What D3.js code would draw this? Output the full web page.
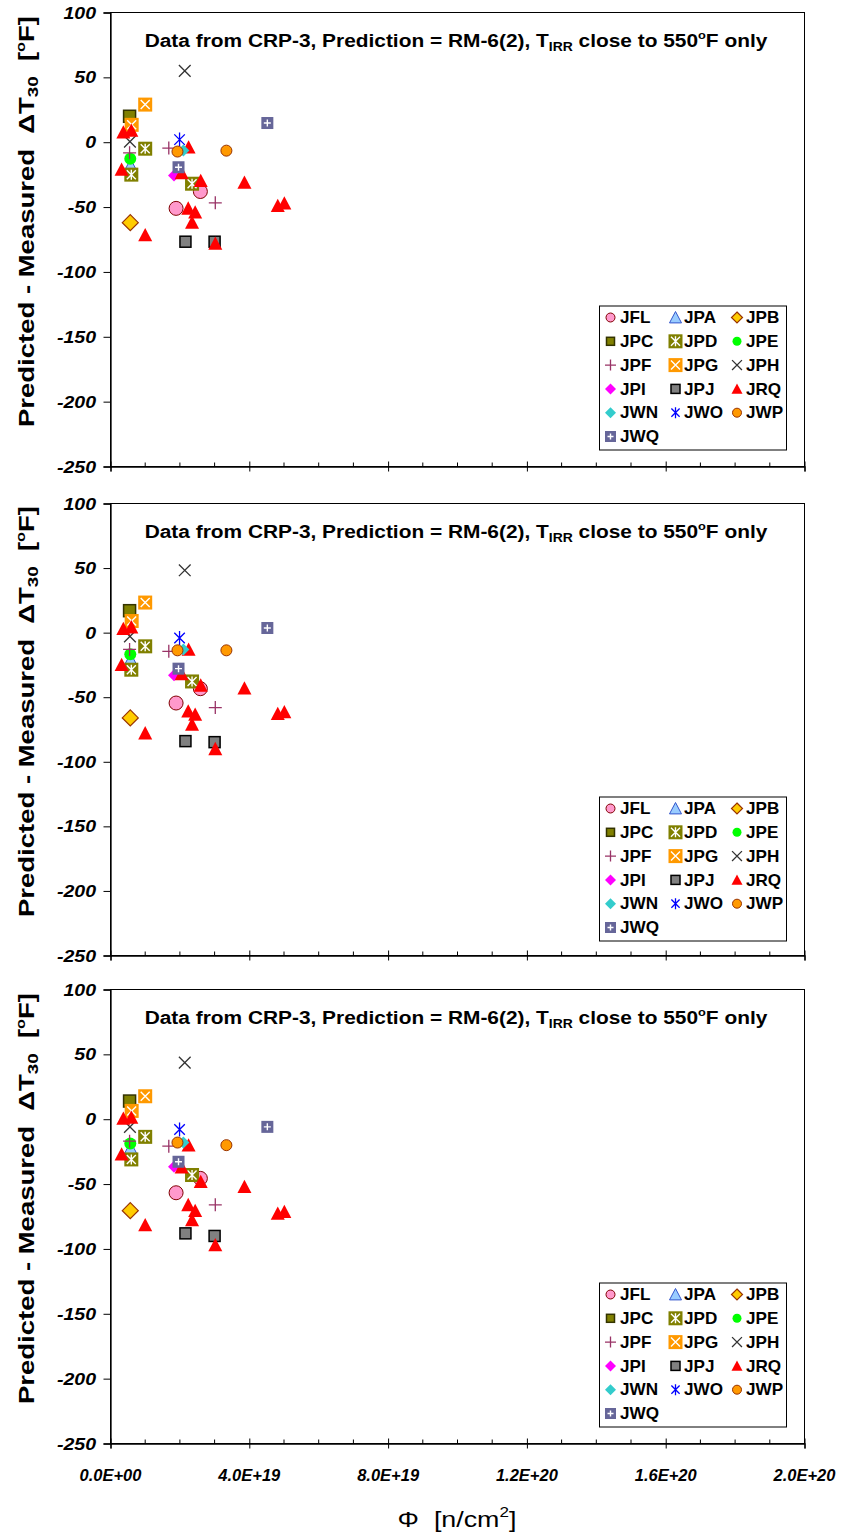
<!DOCTYPE html>
<html>
<head>
<meta charset="utf-8">
<script src="https://cdn.jsdelivr.net/npm/d3@7"></script>
<style>
  body { margin: 0; background: #ffffff; }
  svg { display: block; }
  text { font-family: "Liberation Sans", Arial, sans-serif; fill: #000; }
</style>
</head>
<body>
<svg id="chart" width="847" height="1534"></svg>
<script>
// ---------------- data ----------------
// Fluence (n/cm^2) per heat; dT arrays hold predicted - measured shift
// for the three prediction panels (top, middle, bottom).
const seriesNames = ["JFL","JPA","JPB","JPC","JPD","JPE","JPF","JPG","JPH","JPI","JPJ","JRQ","JWN","JWO","JWP","JWQ"];

const phiJFL = [1.89e19, 2.59e19];
const dtJFL  = [[-51, -38], [-54.5, -43.4], [-56.7, -45.6]];

const phiJPA = [0.58e19];
const dtJPA  = [[-18], [-21], [-22.5]];

const phiJPB = [0.57e19];
const dtJPB  = [[-62], [-66], [-70.5]];

const phiJPC = [0.55e19];
const dtJPC  = [[20], [17], [14]];

const phiJPD = [1.0e19, 0.6e19, 2.35e19];
const dtJPD  = [[-5, -25, -32], [-10.6, -28.7, -37.8], [-13.6, -31, -43]];

const phiJPE = [0.57e19];
const dtJPE  = [[-12.8], [-16.8], [-18.7]];

const phiJPF = [1.68e19, 0.55e19, 3.02e19];
const dtJPF  = [[-4.5, -8.2, -46.7], [-14.5, -13, -58], [-20.8, -16.9, -66]];

const phiJPG = [1.0e19, 0.61e19];
const dtJPG  = [[29, 13.4], [23.3, 9], [17.7, 6.4]];

const phiJPH = [2.14e19, 0.56e19];
const dtJPH  = [[55, 0.5], [48.3, -2.9], [43.6, -5.9]];

const phiJPI = [1.83e19];
const dtJPI  = [[-25.7], [-33], [-36.7]];

const phiJPJ = [2.16e19, 3.0e19];
const dtJPJ  = [[-76.7, -76.7], [-84, -84.8], [-88, -90]];

const phiJRQ = [0.37e19, 0.6e19, 2.25e19, 0.32e19, 2.05e19, 2.6e19, 3.86e19,
                2.24e19, 2.44e19, 2.35e19, 4.82e19, 5.01e19, 1.0e19, 3.02e19];
const dtJRQ  = [
  [7.7, 9, -3.9, -21, -23.6, -29.7, -31, -51, -54, -61.8, -49, -47, -71.5, -78],
  [3.1, 4.3, -13, -24.8, -32, -40.8, -43, -60.8, -63.3, -71, -62.8, -61.5, -77.8, -90],
  [0.5, 1.3, -20, -27, -37, -48.2, -52, -66, -70.5, -77.7, -72.6, -71.3, -81.5, -97]
];

const phiJWN = [2.1e19];
const dtJWN  = [[-6.4], [-13], [-18]];

const phiJWO = [1.99e19];
const dtJWO  = [[2], [-4.2], [-7.9]];

const phiJWP = [1.93e19, 3.34e19];
const dtJWP  = [[-7.2, -6.5], [-13.7, -13.7], [-18, -20]];

const phiJWQ = [1.96e19, 4.52e19];
const dtJWQ  = [[-19.3, 14.8], [-27.9, 3.6], [-32.8, -5.9]];

const xTicks = [0, 4e19, 8e19, 1.2e20, 1.6e20, 2e20];
const xTickLabels = ["0.0E+00", "4.0E+19", "8.0E+19", "1.2E+20", "1.6E+20", "2.0E+20"];
const xMinorTicks = d3.range(0, 2.0001e20, 1e19);
const yTicks = [100, 50, 0, -50, -100, -150, -200, -250];
const yTickLabels = ["100", "50", "0", "-50", "-100", "-150", "-200", "-250"];

const phiByName = {JFL: phiJFL, JPA: phiJPA, JPB: phiJPB, JPC: phiJPC, JPD: phiJPD, JPE: phiJPE,
  JPF: phiJPF, JPG: phiJPG, JPH: phiJPH, JPI: phiJPI, JPJ: phiJPJ, JRQ: phiJRQ, JWN: phiJWN,
  JWO: phiJWO, JWP: phiJWP, JWQ: phiJWQ};
const dtByName = {JFL: dtJFL, JPA: dtJPA, JPB: dtJPB, JPC: dtJPC, JPD: dtJPD, JPE: dtJPE,
  JPF: dtJPF, JPG: dtJPG, JPH: dtJPH, JPI: dtJPI, JPJ: dtJPJ, JRQ: dtJRQ, JWN: dtJWN,
  JWO: dtJWO, JWP: dtJWP, JWQ: dtJWQ};

// ---------------- marker styles ----------------
const markerStyle = {
  JFL: {shape: "circle",     size: 15, leg: 10, fill: "#FF99CC", stroke: "#800000"},
  JPA: {shape: "triangle",   size: 13, leg: 12, fill: "#99CCFF", stroke: "#3355CC"},
  JPB: {shape: "diamond",    size: 16, leg: 11, fill: "#FFCC00", stroke: "#993300"},
  JPC: {shape: "square",     size: 13, leg: 9,  fill: "#808000", stroke: "#333300"},
  JPD: {shape: "squareStar", size: 14, leg: 14, fill: "#808000", stroke: "none"},
  JPE: {shape: "circle",     size: 13, leg: 10, fill: "#00FF00", stroke: "none"},
  JPF: {shape: "plus",       size: 13, leg: 11, fill: "none",    stroke: "#993366"},
  JPG: {shape: "squareX",    size: 14, leg: 14, fill: "#FF9900", stroke: "none"},
  JPH: {shape: "x",          size: 13, leg: 11, fill: "none",    stroke: "#333333"},
  JPI: {shape: "diamond",    size: 12, leg: 11, fill: "#FF00FF", stroke: "none"},
  JPJ: {shape: "square",     size: 12, leg: 10, fill: "#808080", stroke: "#000000"},
  JRQ: {shape: "triangle",   size: 14, leg: 11, fill: "#FF0000", stroke: "none"},
  JWN: {shape: "diamond",    size: 12, leg: 11, fill: "#33CCCC", stroke: "none"},
  JWO: {shape: "star",       size: 14, leg: 11, fill: "none",    stroke: "#0000FF"},
  JWP: {shape: "circle",     size: 12, leg: 10, fill: "#FF9900", stroke: "#993300"},
  JWQ: {shape: "squarePlus", size: 12, leg: 11, fill: "#666699", stroke: "none"}
};

const series = seriesNames.map(name => ({
  name, phi: phiByName[name], dt: dtByName[name], style: markerStyle[name]
}));

// ---------------- layout ----------------
const xLeft = 110.5, xRight = 804.5;
const panels = [
  {top: 12.5,  bottom: 466.5,  showXLabels: false},
  {top: 503.5, bottom: 955.5,  showXLabels: false},
  {top: 989.5, bottom: 1443.5, showXLabels: true}
];

const svg = d3.select("#chart");
const x = d3.scaleLinear().domain([0, 2e20]).range([xLeft, xRight]);

// text placed at (px,py), widened horizontally by sx
function wideText(parent, px, py, sx, size, opts = {}) {
  const t = parent.append("text")
    .attr("transform", `translate(${px},${py})${opts.rotate ? ` rotate(${opts.rotate})` : ""} scale(${sx},1)`)
    .attr("font-size", size)
    .attr("text-anchor", opts.anchor || "start");
  if (opts.weight) t.attr("font-weight", opts.weight);
  if (opts.style) t.attr("font-style", opts.style);
  if (opts.dy) t.attr("dy", opts.dy);
  return t;
}

function drawMarker(g, st, s) {
  const h = s / 2;
  switch (st.shape) {
    case "circle":
      g.append("circle").attr("r", h - 0.5).attr("fill", st.fill)
        .attr("stroke", st.stroke).attr("stroke-width", 1);
      break;
    case "square":
      g.append("rect").attr("x", -h + 0.5).attr("y", -h + 0.5).attr("width", s - 1).attr("height", s - 1)
        .attr("fill", st.fill).attr("stroke", st.stroke).attr("stroke-width", 1.5);
      break;
    case "squareX":
    case "squareStar":
    case "squarePlus": {
      g.append("rect").attr("x", -h).attr("y", -h).attr("width", s).attr("height", s).attr("fill", st.fill);
      const k = h - 2.5;
      let d = "";
      if (st.shape !== "squarePlus") d += `M${-k},${-k}L${k},${k}M${k},${-k}L${-k},${k}`;
      if (st.shape === "squareStar") d += `M0,${-k - 0.5}L0,${k + 0.5}`;
      if (st.shape === "squarePlus") d += `M${-k},0L${k},0M0,${-k}L0,${k}`;
      g.append("path").attr("d", d).attr("stroke", "#ffffff").attr("stroke-width", 1.4).attr("fill", "none");
      break;
    }
    case "triangle":
      g.append("path").attr("d", `M0,${-h}L${h},${h * 0.9}L${-h},${h * 0.9}Z`)
        .attr("fill", st.fill).attr("stroke", st.stroke).attr("stroke-width", 1);
      break;
    case "diamond":
      g.append("path").attr("d", `M0,${-h}L${h},0L0,${h}L${-h},0Z`)
        .attr("fill", st.fill).attr("stroke", st.stroke).attr("stroke-width", 1.2);
      break;
    case "plus":
      g.append("path").attr("d", `M${-h},0L${h},0M0,${-h}L0,${h}`)
        .attr("stroke", st.stroke).attr("stroke-width", 1.3).attr("fill", "none");
      break;
    case "x": {
      const k = h * 0.9;
      g.append("path").attr("d", `M${-k},${-k}L${k},${k}M${k},${-k}L${-k},${k}`)
        .attr("stroke", st.stroke).attr("stroke-width", 1.3).attr("fill", "none");
      break;
    }
    case "star": {
      const k = h * 0.75;
      g.append("path").attr("d", `M${-k},${-k}L${k},${k}M${k},${-k}L${-k},${k}M0,${-h}L0,${h}`)
        .attr("stroke", st.stroke).attr("stroke-width", 1.3).attr("fill", "none");
      break;
    }
  }
}

panels.forEach((p, pi) => {
  const y = d3.scaleLinear().domain([-250, 100]).range([p.bottom, p.top]);
  const g = svg.append("g");

  // plot frame
  g.append("rect").attr("x", xLeft).attr("y", p.top).attr("width", xRight - xLeft)
    .attr("height", p.bottom - p.top).attr("fill", "#fff").attr("stroke", "#000").attr("stroke-width", 1);

  // y axis (ticks from the axis generator, labels drawn separately)
  const yAxis = d3.axisLeft(y).tickValues(yTicks).tickSize(7).tickFormat("");
  const ya = g.append("g").attr("transform", `translate(${xLeft},0)`).call(yAxis);
  ya.select(".domain").attr("stroke", "#000").attr("stroke-width", 1.3);
  ya.selectAll(".tick line").attr("stroke", "#000");
  yTicks.forEach((v, i) => {
    wideText(g, 96, y(v), 1.15, 17, {anchor: "end", weight: "bold", style: "italic", dy: "0.36em"})
      .text(yTickLabels[i]);
  });

  // x axis: major ticks crossing, minor ticks pointing inward
  const xAxis = d3.axisBottom(x).tickValues(xTicks).tickSize(5).tickFormat("");
  const xa = g.append("g").attr("transform", `translate(0,${p.bottom})`).call(xAxis);
  xa.select(".domain").attr("stroke", "#000").attr("stroke-width", 1.3);
  xa.selectAll(".tick line").attr("stroke", "#000").attr("y1", -5);
  g.append("g").selectAll("line").data(xMinorTicks.filter(v => !xTicks.includes(v))).join("line")
    .attr("x1", d => x(d)).attr("x2", d => x(d)).attr("y1", p.bottom).attr("y2", p.bottom - 4)
    .attr("stroke", "#000");
  if (p.showXLabels) {
    xTicks.forEach((v, i) => {
      wideText(g, x(v), p.bottom + 37, 1.0, 16.5, {anchor: "middle", weight: "bold", style: "italic"})
        .text(xTickLabels[i]);
    });
  }

  // title
  const t = wideText(g, 456, p.top + 34, 1.16, 18, {anchor: "middle", weight: "bold"});
  t.append("tspan").text("Data from CRP-3, Prediction = RM-6(2), T");
  t.append("tspan").attr("font-size", 12).attr("dy", 4).text("IRR");
  t.append("tspan").attr("dy", -4).text(" close to 550");
  t.append("tspan").attr("font-size", 11).attr("dy", -8).text("o");
  t.append("tspan").attr("dy", 8).text("F only");

  // y axis title
  const cy = (p.top + p.bottom) / 2 - 18;
  const yt = wideText(g, 34, cy, 1.25, 22, {anchor: "middle", weight: "bold", rotate: -90});
  yt.append("tspan").text("Predicted - Measured \u00A0\u0394T");
  yt.append("tspan").attr("font-size", 15).attr("dy", 4).text("30");
  yt.append("tspan").attr("dy", -4).text("\u00A0 [");
  yt.append("tspan").attr("font-size", 13).attr("dy", -9).text("o");
  yt.append("tspan").attr("dy", 9).text("F]");

  // data markers, drawn in series order
  const plot = g.append("g");
  series.forEach(s => {
    const vals = s.dt[pi];
    s.phi.forEach((phi, k) => {
      const mg = plot.append("g").attr("transform", `translate(${x(phi)},${y(vals[k])})`);
      drawMarker(mg, s.style, s.style.size);
    });
  });

  // legend
  const lg = g.append("g");
  const lx0 = 599.5, ly0 = p.top + 293.5;
  lg.append("rect").attr("x", lx0).attr("y", ly0).attr("width", 187).attr("height", 144)
    .attr("fill", "#fff").attr("stroke", "#000").attr("stroke-width", 1);
  const colMarker = [610.5, 675.5, 737];
  const colText = [620, 684, 746];
  series.forEach((s, i) => {
    const col = i % 3, row = Math.floor(i / 3);
    const ry = p.top + 305 + row * 23.8;
    const mg = lg.append("g").attr("transform", `translate(${colMarker[col]},${ry})`);
    drawMarker(mg, s.style, s.style.leg);
    wideText(lg, colText[col], ry, 1.07, 16, {weight: "bold", dy: "0.36em"}).text(s.name);
  });
});

// x axis title
const xt = wideText(svg, 457, 1527, 1.22, 22, {anchor: "middle"});
xt.append("tspan").text("\u03A6 \u00A0[n/cm");
xt.append("tspan").attr("font-size", 14).attr("dy", -10).text("2");
xt.append("tspan").attr("dy", 10).text("]");
</script>
</body>
</html>
